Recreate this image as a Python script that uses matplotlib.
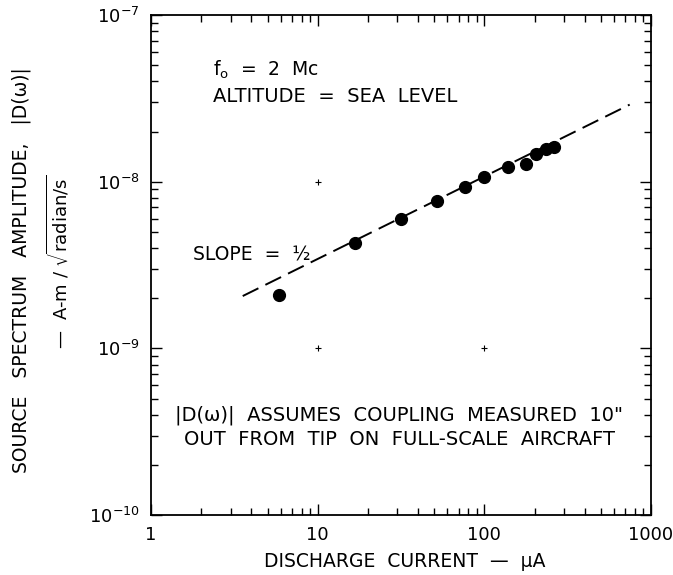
import matplotlib.pyplot as plt
import numpy as np

plt.rcParams['font.family'] = ['DejaVu Sans']
plt.rcParams['mathtext.fontset'] = 'dejavusans'

# measured points (discharge current in uA, |D(w)| in A-m/sqrt(rad/s))
current = [5.9, 16.7, 31.5, 52, 77, 99, 139, 179, 204, 234, 261]
amplitude = [2.1e-9, 4.28e-9, 5.97e-9, 7.7e-9, 9.3e-9, 1.07e-8,
             1.22e-8, 1.285e-8, 1.47e-8, 1.57e-8, 1.61e-8]

# slope = 1/2 line
fit_x = [3.55, 745]
fit_y = [2.06e-9, 2.9e-8]

# small grid crosses left on the chart paper
cross_x = [10, 10, 100]
cross_y = [1e-8, 1e-9, 1e-9]

fig = plt.figure(figsize=(6.73, 5.75), dpi=100)
ax = fig.add_axes([0.2244, 0.1043, 0.7429, 0.8696])

ax.plot(cross_x, cross_y, '+', color='black', ms=4, mew=0.8)
ax.plot(fit_x, fit_y, color='black', lw=1.4, ls=(0, (9, 4)))
ax.plot(current, amplitude, 'o', color='black', ms=8.5)

ax.set_xscale('log')
ax.set_yscale('log')
ax.set_xlim(1, 1000)
ax.set_ylim(1e-10, 1e-7)
ax.set_xticks([1, 10, 100, 1000])
ax.set_xticklabels(['1', '10', '100', '1000'])
ax.set_yticks([1e-10, 1e-9, 1e-8, 1e-7])
ax.set_yticklabels([r'$10^{-10}$', r'$10^{-9}$', r'$10^{-8}$', r'$10^{-7}$'])
ax.tick_params(which='both', direction='in', top=True, right=True,
               labelsize=13, width=1)
ax.tick_params(which='major', length=8, pad=8)
ax.tick_params(which='minor', length=5)
for s in ax.spines.values():
    s.set_linewidth(1.3)

txt = dict(transform=ax.transAxes, color='black')
ax.text(0.124, 0.891, r'f$_\mathrm{o}$  =  2  Mc', va='center',
        fontsize=13.5, **txt)
ax.text(0.124, 0.838, 'ALTITUDE  =  SEA  LEVEL', va='center',
        fontsize=14, **txt)
ax.text(0.084, 0.521, 'SLOPE  =  ½', va='center', fontsize=13.5, **txt)
ax.text(0.495, 0.199, '|D(ω)|  ASSUMES  COUPLING  MEASURED  10"',
        ha='center', va='center', fontsize=14, **txt)
ax.text(0.497, 0.152, 'OUT  FROM  TIP  ON  FULL-SCALE  AIRCRAFT',
        ha='center', va='center', fontsize=14, **txt)

fig.text(0.031, 0.53, 'SOURCE   SPECTRUM   AMPLITUDE,   |D(ω)|', rotation=90,
         ha='center', va='center', fontsize=13.5)
fig.text(0.086, 0.545, r'—  A-m / $\sqrt{\mathrm{radian/s}}$', rotation=90,
         ha='center', va='center', fontsize=13)
fig.text(0.602, 0.024, 'DISCHARGE  CURRENT  —  μA', ha='center', va='center',
         fontsize=13.5)

fig.savefig('out.png', dpi=100)
